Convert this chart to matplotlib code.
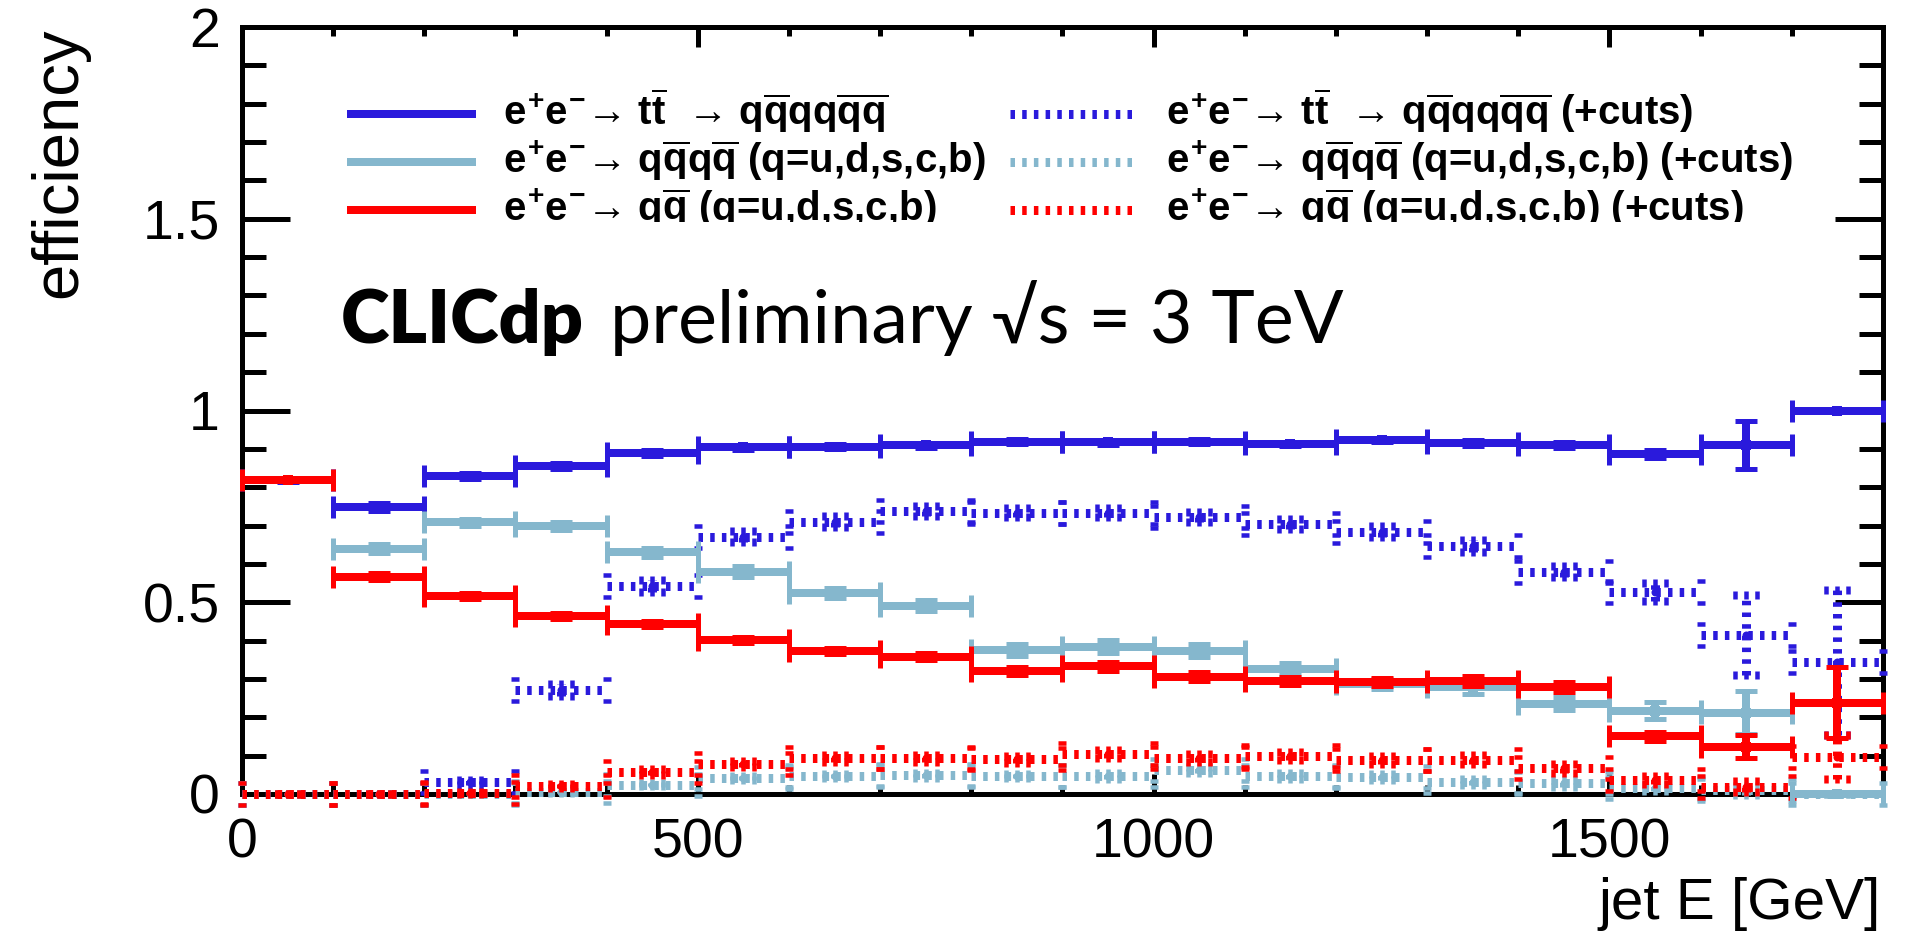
import numpy as np
import matplotlib
matplotlib.use("Agg")
import matplotlib.pyplot as plt
from matplotlib.lines import Line2D
from matplotlib.path import Path
from matplotlib.ticker import MultipleLocator, FuncFormatter, NullFormatter
from matplotlib.transforms import Bbox, TransformedBbox, IdentityTransform

# ---------------------------------------------------------------- data
# jet-energy binning [GeV]
bin_edges = list(range(0, 1900, 100))

# e+e- -> ttbar -> 6 quarks
eff_tt = [0.819, 0.749, 0.829, 0.856, 0.890, 0.904, 0.906, 0.909, 0.919, 0.917,
          0.919, 0.913, 0.923, 0.915, 0.909, 0.887, 0.910, 1.000]
err_tt = [0.005, 0.010, 0.008, 0.008, 0.008, 0.007, 0.006, 0.006, 0.006, 0.006,
          0.006, 0.006, 0.006, 0.007, 0.008, 0.010, 0.063, 0.000]

# e+e- -> 4 quarks
eff_4q = [np.nan, 0.640, 0.708, 0.699, 0.630, 0.580, 0.523, 0.491, 0.376, 0.384,
          0.374, 0.325, 0.286, 0.278, 0.235, 0.217, 0.212, 0.000]
err_4q = [0.000, 0.012, 0.010, 0.010, 0.011, 0.014, 0.013, 0.014, 0.015, 0.017,
          0.016, 0.016, 0.013, 0.018, 0.017, 0.022, 0.056, 0.000]

# e+e- -> 2 quarks
eff_2q = [0.819, 0.567, 0.516, 0.465, 0.443, 0.402, 0.374, 0.358, 0.321, 0.333,
          0.306, 0.294, 0.292, 0.295, 0.280, 0.150, 0.123, 0.238]
err_2q = [0.004, 0.009, 0.008, 0.008, 0.008, 0.008, 0.008, 0.009, 0.010, 0.011,
          0.011, 0.011, 0.011, 0.013, 0.013, 0.012, 0.030, 0.092]

# same samples after selection cuts
eff_tt_cut = [0.000, 0.000, 0.030, 0.271, 0.543, 0.671, 0.710, 0.738, 0.734, 0.734,
              0.723, 0.704, 0.684, 0.647, 0.580, 0.527, 0.414, 0.343]
err_tt_cut = [0.000, 0.000, 0.006, 0.015, 0.016, 0.015, 0.014, 0.013, 0.012, 0.013,
              0.013, 0.013, 0.014, 0.016, 0.015, 0.023, 0.105, 0.190]

eff_4q_cut = [0.000, 0.000, 0.000, 0.005, 0.024, 0.041, 0.047, 0.049, 0.047, 0.047,
              0.063, 0.047, 0.045, 0.032, 0.028, 0.015, 0.010, 0.000]
err_4q_cut = [0.000, 0.000, 0.000, 0.002, 0.004, 0.005, 0.006, 0.006, 0.006, 0.007,
              0.008, 0.008, 0.008, 0.008, 0.009, 0.008, 0.012, 0.000]

eff_2q_cut = [0.000, 0.000, 0.003, 0.021, 0.057, 0.078, 0.093, 0.093, 0.091, 0.104,
              0.093, 0.099, 0.089, 0.089, 0.067, 0.036, 0.019, 0.096]
err_2q_cut = [0.000, 0.000, 0.003, 0.005, 0.007, 0.008, 0.009, 0.009, 0.009, 0.010,
              0.010, 0.010, 0.010, 0.012, 0.012, 0.010, 0.015, 0.058]

labels = [
    r"$e^{+}e^{-}$→ t$\overline{t}$  → q$\overline{q}$qq$\overline{q}\overline{q}$",
    r"$e^{+}e^{-}$→ q$\overline{q}$q$\overline{q}$ (q=u,d,s,c,b)",
    r"$e^{+}e^{-}$→ q$\overline{q}$ (q=u,d,s,c,b)",
]
cut_suffix = " (+cuts)"

BLUE = "#2a1adc"
LIGHT = "#85b7cd"
RED = "#ff0000"

# ---------------------------------------------------------------- style
W, H, DPI = 1931, 941, 100
PX = 72.0 / DPI           # points per pixel
LW = 8 * PX
DLW = 9 * PX
DOTS = (0, (0.5, 0.8))

plt.rcParams["font.family"] = ["Liberation Sans", "DejaVu Sans"]
plt.rcParams["mathtext.fontset"] = "custom"
plt.rcParams["mathtext.rm"] = "Liberation Sans:bold"
plt.rcParams["mathtext.it"] = "Liberation Sans:bold"
plt.rcParams["mathtext.bf"] = "Liberation Sans:bold"


def fx(px):
    return px / W


def fy(py):
    return 1.0 - py / H


fig = plt.figure(figsize=(W / DPI, H / DPI), dpi=DPI)
AX_L, AX_R, AX_T, AX_B = 242, 1883, 27, 794
ax = fig.add_axes([fx(AX_L), fy(AX_B), (AX_R - AX_L) / W, (AX_B - AX_T) / H])

# dotted cap markers (ROOT dotted lines look like rows of short bars)
VCAP_DOT = Path([(-0.4, 1.0), (0.4, 1.0), (-0.4, -1.0), (0.4, -1.0)],
                [Path.MOVETO, Path.LINETO, Path.MOVETO, Path.LINETO])
HCAP_DOT = Path([(-1, -0.4), (-1, 0.4), (0, -0.4), (0, 0.4), (1, -0.4), (1, 0.4)],
                [Path.MOVETO, Path.LINETO] * 3)


def draw_hist(vals, errs, color, dotted, z):
    edges = np.asarray(bin_edges, float)
    y = np.asarray(vals, float)
    e = np.asarray(errs, float)
    lo, hi = edges[:-1], edges[1:]
    mid = 0.5 * (lo + hi)
    ok = ~np.isnan(y)
    lo, hi, mid, y, e = lo[ok], hi[ok], mid[ok], y[ok], e[ok]
    ls = DOTS if dotted else "solid"
    common = dict(colors=color, linewidths=DLW if dotted else LW, zorder=z,
                  clip_on=False, capstyle="butt", linestyles=ls)
    ax.hlines(y, lo, hi, **common)
    ax.vlines(mid, y - e, y + e, **common)
    vcap = VCAP_DOT if dotted else "|"
    hcap = HCAP_DOT if dotted else "_"
    mew = (4.5 if dotted else 5) * PX
    for xs, ys, m in ((lo, y, vcap), (hi, y, vcap), (mid, y + e, hcap), (mid, y - e, hcap)):
        ax.plot(xs, ys, ls="none", marker=m, ms=22 * PX, mew=mew, mec=color,
                mfc=color, zorder=z, clip_on=False)
    ax.plot(mid, y, ls="none", marker="o" if dotted else "s",
            ms=(8 if dotted else 10) * PX, mew=0, color=color, zorder=z, clip_on=False)


draw_hist(eff_tt_cut, err_tt_cut, BLUE, True, 3.0)
draw_hist(eff_4q_cut, err_4q_cut, LIGHT, True, 3.1)
draw_hist(eff_2q_cut, err_2q_cut, RED, True, 3.2)
draw_hist(eff_tt, err_tt, BLUE, False, 3.3)
draw_hist(eff_4q, err_4q, LIGHT, False, 3.4)
draw_hist(eff_2q, err_2q, RED, False, 3.5)

# ---------------------------------------------------------------- axes
ax.set_xlim(bin_edges[0], bin_edges[-1])
ax.set_ylim(0, 2)
ax.xaxis.set_major_locator(MultipleLocator(500))
ax.xaxis.set_minor_locator(MultipleLocator(100))
ax.yaxis.set_major_locator(MultipleLocator(0.5))
ax.yaxis.set_minor_locator(MultipleLocator(0.1))
fmt = FuncFormatter(lambda v, p: f"{v:g}")
ax.xaxis.set_major_formatter(fmt)
ax.yaxis.set_major_formatter(fmt)
ax.xaxis.set_minor_formatter(NullFormatter())
ax.yaxis.set_minor_formatter(NullFormatter())

ax.tick_params(which="both", direction="in", top=True, right=True,
               width=5 * PX, color="black", labelsize=40)
ax.tick_params(axis="x", which="major", length=20 * PX, pad=17)
ax.tick_params(axis="x", which="minor", length=9 * PX)
ax.tick_params(axis="y", which="major", length=48 * PX, pad=16)
ax.tick_params(axis="y", which="minor", length=24 * PX)
for sp in ax.spines.values():
    sp.set_linewidth(5 * PX)

fig.text(fx(59), fy(27), "efficiency", rotation=90, ha="center", va="top", fontsize=47)
fig.text(fx(1881), fy(877), "jet E [GeV]", ha="right", va="top", fontsize=42)

# ---------------------------------------------------------------- legend
rows_y = [114, 162, 210]
col_line = [(347, 476), (1010, 1138)]
col_text = [503, 1166]
clip = TransformedBbox(Bbox([[0, H - 222], [W, H]]), IdentityTransform())
for i, (lab, col) in enumerate(zip(labels, [BLUE, LIGHT, RED])):
    ry = rows_y[i]
    for c, dotted in enumerate([False, True]):
        x0, x1 = col_line[c]
        ln = Line2D([fx(x0), fx(x1)], [fy(ry), fy(ry)], transform=fig.transFigure,
                    color=col, lw=DLW if dotted else LW, ls=DOTS if dotted else "solid",
                    solid_capstyle="butt", dash_capstyle="butt")
        fig.add_artist(ln)
        t = fig.text(fx(col_text[c]), fy(ry + 11), lab + (cut_suffix if dotted else ""),
                     ha="left", va="baseline", fontsize=29, fontweight="bold")
        if i == 2:
            t.set_clip_box(clip)
            t.set_clip_on(True)

# ---------------------------------------------------------------- label
t1 = fig.text(fx(341), fy(343), "CLICdp", fontsize=53, fontweight="heavy",
              family=["Lato", "DejaVu Sans"], va="baseline", ha="left")
ax.annotate("preliminary \u221as = 3 TeV", xy=(1, 0), xycoords=t1,
            xytext=(19, 0), textcoords="offset points", ha="left", va="bottom",
            fontsize=53, fontweight="normal", family=["Lato", "DejaVu Sans"],
            annotation_clip=False)

fig.savefig("out.png", dpi=DPI)
